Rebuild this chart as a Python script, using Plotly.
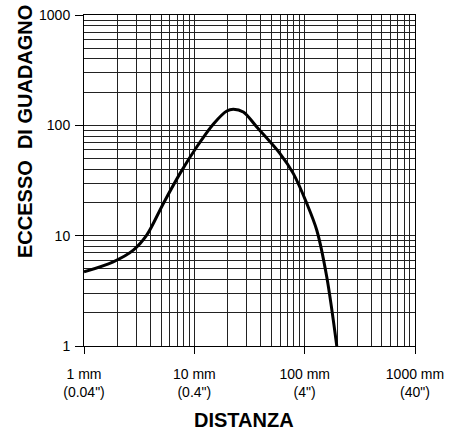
import plotly.graph_objects as go

# Data
distance_mm = [1, 1.84, 2.8, 3.7, 5.24, 7.4, 10.5, 14.9, 19.7, 22.6, 27.8, 36.8, 59.8, 79, 104.5, 128.8, 158.5, 195.5]
excess_gain = [4.7, 5.8, 7.4, 10.1, 19.6, 36.5, 63.6, 103, 135, 140, 132, 96.6, 55.5, 36.5, 19.6, 11.2, 4.24, 1]

x_tickvals = [1, 10, 100, 1000]
x_ticktext = ['1 mm<br>(0.04")', '10 mm<br>(0.4")', '100 mm<br>(4")', '1000 mm<br>(40")']
y_tickvals = [1, 10, 100, 1000]
y_ticktext = ["1", "10", "100", "1000"]

minor_vals = [m * 10 ** d for d in range(3) for m in range(2, 10)]

grid_color = "#222222"

fig = go.Figure()
fig.add_trace(go.Scatter(
    x=distance_mm, y=excess_gain, mode="lines",
    line=dict(color="black", width=3, shape="spline", smoothing=0.9),
    showlegend=False, hoverinfo="skip",
))

axis_common = dict(
    type="log", range=[0, 3], automargin=False,
    showgrid=True, gridcolor=grid_color, gridwidth=1,
    showline=True, linecolor="black", linewidth=1, mirror=True,
    ticks="outside", ticklen=8, tickwidth=1, tickcolor="black",
    zeroline=False,
    tickfont=dict(family="Liberation Sans, Arial, sans-serif", size=14, color="black"),
    minor=dict(tickvals=minor_vals, showgrid=True, gridcolor=grid_color, gridwidth=1, ticks=""),
)

fig.update_xaxes(**axis_common, tickvals=x_tickvals, ticktext=x_ticktext)
fig.update_yaxes(**axis_common, tickvals=y_tickvals, ticktext=y_ticktext)
fig.update_yaxes(ticklabelstandoff=2)
fig.update_xaxes(ticklen=7, ticklabelstandoff=8)

fig.add_annotation(
    text="ECCESSO  DI GUADAGNO", xref="paper", yref="paper",
    x=(25 - 84) / 331, y=(346 - 132) / 331, textangle=-90,
    showarrow=False, xanchor="center", yanchor="middle",
    font=dict(family="Liberation Sans, Arial, sans-serif", size=20, color="black", weight="bold"),
)
fig.add_annotation(
    text="DISTANZA", xref="paper", yref="paper",
    x=(244 - 84) / 331, y=(346 - 420) / 331,
    showarrow=False, xanchor="center", yanchor="middle",
    font=dict(family="Liberation Sans, Arial, sans-serif", size=20, color="black", weight="bold"),
)

fig.update_layout(
    width=451, height=434,
    margin=dict(l=84, r=36, t=15, b=88),
    paper_bgcolor="white", plot_bgcolor="white",
    font=dict(family="Liberation Sans, Arial, sans-serif", color="black"),
)

fig.write_html("out.html", config={"displayModeBar": False},
               post_script="document.body.style.margin='0';document.body.style.overflow='hidden';")
